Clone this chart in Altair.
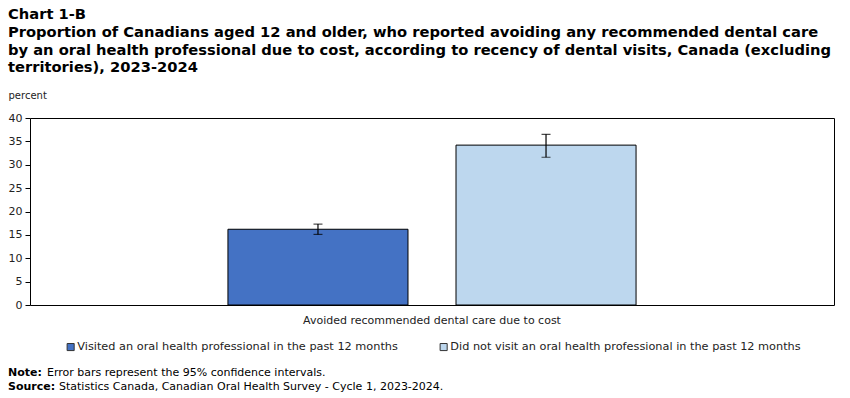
import altair as alt
import pandas as pd

category = ["Avoided recommended dental care due to cost"]
series = ["Visited an oral health professional in the past 12 months",
          "Did not visit an oral health professional in the past 12 months"]
values = [16.2, 34.2]
lower = [15.1, 31.6]
upper = [17.3, 36.5]
colors = ["#4472C4", "#BDD7EE"]
y_ticks = [0, 5, 10, 15, 20, 25, 30, 35, 40]

title_lines = [
    "Chart 1-B",
    "Proportion of Canadians aged 12 and older, who reported avoiding any recommended dental care",
    "by an oral health professional due to cost, according to recency of dental visits, Canada (excluding",
    "territories), 2023-2024",
]
note_label = "Note:"
note_text = "Error bars represent the 95% confidence intervals."
source_label = "Source:"
source_text = "Statistics Canada, Canadian Oral Health Survey - Cycle 1, 2023-2024."

df = pd.DataFrame({
    "cat": category * 2,
    "series": series,
    "value": values,
    "lo": lower,
    "hi": upper,
})

FONT = "DejaVu Sans"
W, H = 804, 187

x_enc = alt.X("cat:N", title=None,
              scale=alt.Scale(paddingInner=0, paddingOuter=0.3816),
              axis=alt.Axis(labelAngle=0, ticks=False, domain=False, labelPadding=9,
                            labelLimit=600,
                            labelFont=FONT, labelFontSize=11, labelColor="#222"))
xo_enc = alt.XOffset("series:N", sort=series,
                     scale=alt.Scale(paddingInner=0.2105, paddingOuter=0.105))

y_axis = alt.Axis(values=y_ticks, grid=False, domain=False,
                  tickColor="black", tickSize=5, labelPadding=3,
                  labelFont=FONT, labelFontSize=11, labelColor="#222",
                  title="percent", titleAngle=0, titleX=-22, titleY=-20,
                  titleAlign="left", titleBaseline="alphabetic",
                  titleFont=FONT, titleFontSize=10, titleFontWeight="normal",
                  titleColor="#222")
y_scale = alt.Scale(domain=[0, 40])

bars = alt.Chart(df).mark_bar(stroke="black", strokeWidth=1).encode(
    x=x_enc,
    xOffset=xo_enc,
    y=alt.Y("value:Q", scale=y_scale, axis=y_axis),
    color=alt.Color("series:N", sort=series,
                    scale=alt.Scale(domain=series, range=colors),
                    legend=alt.Legend(title=None, orient="none", legendX=35, legendY=223,
                                      direction="horizontal", symbolType="square",
                                      symbolSize=50, symbolStrokeColor="#333",
                                      symbolStrokeWidth=1, columnPadding=40,
                                      labelFont=FONT, labelFontSize=11.3, labelColor="#222",
                                      labelLimit=400, symbolOffset=0, labelOffset=1)),
)

rules = alt.Chart(df).mark_rule(color="black", strokeWidth=1.2).encode(
    x=x_enc, xOffset=xo_enc, y=alt.Y("lo:Q", scale=y_scale, axis=y_axis), y2="hi:Q")
caps_lo = alt.Chart(df).mark_tick(color="black", size=9, thickness=1.2).encode(
    x=x_enc, xOffset=xo_enc, y=alt.Y("lo:Q", scale=y_scale, axis=y_axis))
caps_hi = alt.Chart(df).mark_tick(color="black", size=9, thickness=1.2).encode(
    x=x_enc, xOffset=xo_enc, y=alt.Y("hi:Q", scale=y_scale, axis=y_axis))

layers = [bars, rules, caps_lo, caps_hi]

title_y = [-99, -81, -63, -46]
for t, yy in zip(title_lines, title_y):
    layers.append(alt.Chart(pd.DataFrame({"t": [t]})).mark_text(
        align="left", baseline="alphabetic", font=FONT, fontSize=14.7, fontWeight="bold",
        color="black").encode(text="t:N", x=alt.value(-22), y=alt.value(yy)))

foot = [(note_label, note_text, 258, 39), (source_label, source_text, 272, 51)]
for lab, txt, yy, dx in foot:
    layers.append(alt.Chart(pd.DataFrame({"t": [lab]})).mark_text(
        align="left", baseline="alphabetic", font=FONT, fontSize=11, fontWeight="bold",
        color="black").encode(text="t:N", x=alt.value(-22), y=alt.value(yy)))
    layers.append(alt.Chart(pd.DataFrame({"t": [txt]})).mark_text(
        align="left", baseline="alphabetic", font=FONT, fontSize=11,
        color="black").encode(text="t:N", x=alt.value(-22 + dx), y=alt.value(yy)))

chart = alt.layer(*layers).properties(
    width=W, height=H,
    background="white",
    autosize=alt.AutoSizeParams(type="none"),
    padding={"left": 30, "top": 118, "right": 16, "bottom": 93},
).configure_view(stroke="black", strokeWidth=1)

chart.save("out.html", embed_options={"renderer": "svg", "actions": False})
